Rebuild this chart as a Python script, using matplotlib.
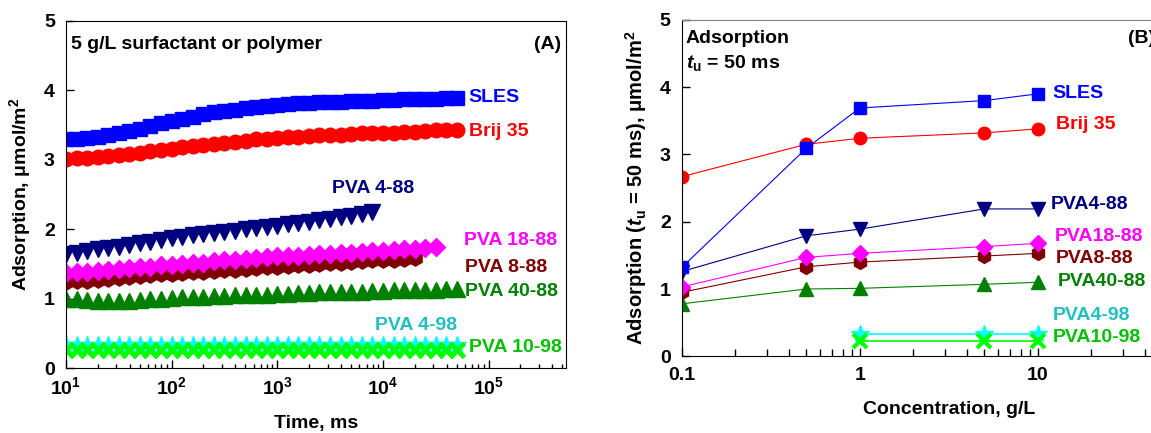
import matplotlib
matplotlib.use("Agg")
import matplotlib.pyplot as plt
from matplotlib.ticker import LogLocator, NullFormatter, FixedLocator

plt.rcParams['font.family'] = ['Liberation Sans', 'DejaVu Sans']
plt.rcParams['font.weight'] = 'bold'
plt.rcParams['mathtext.fontset'] = 'custom'
plt.rcParams['mathtext.rm'] = 'Liberation Sans:bold'
plt.rcParams['mathtext.it'] = 'Liberation Sans:bold:italic'
plt.rcParams['mathtext.bf'] = 'Liberation Sans:bold'

# ---- panel A: adsorption vs time, 5 g/L ----
times = [10, 12.6, 15.8, 20, 25.1, 31.6, 39.8, 50.1, 63.1, 79.4,
         100, 126, 158, 200, 251, 316, 398, 501, 631, 794,
         1000, 1260, 1580, 2000, 2510, 3160, 3980, 5010, 6310, 7940,
         10000, 12600, 15800, 20000, 25100, 31600, 39800, 50100]

sles_t = [3.29, 3.30, 3.31, 3.33, 3.35, 3.38, 3.41, 3.44, 3.48, 3.52,
          3.56, 3.59, 3.62, 3.65, 3.68, 3.70, 3.72, 3.74, 3.76, 3.77,
          3.79, 3.80, 3.81, 3.82, 3.825, 3.83, 3.835, 3.84, 3.845, 3.85,
          3.855, 3.86, 3.865, 3.87, 3.87, 3.875, 3.88, 3.88]
brij_t = [3.01, 3.02, 3.03, 3.04, 3.05, 3.06, 3.08, 3.10, 3.12, 3.14,
          3.16, 3.18, 3.19, 3.21, 3.23, 3.24, 3.26, 3.27, 3.29, 3.30,
          3.31, 3.32, 3.33, 3.34, 3.35, 3.36, 3.36, 3.37, 3.38, 3.38,
          3.39, 3.39, 3.40, 3.40, 3.41, 3.42, 3.42, 3.43]
pva488_t = [1.64, 1.66, 1.68, 1.71, 1.73, 1.75, 1.77, 1.80, 1.82, 1.85,
            1.87, 1.89, 1.91, 1.93, 1.95, 1.96, 1.98, 2.00, 2.01, 2.03,
            2.05, 2.07, 2.09, 2.11, 2.13, 2.15, 2.17, 2.19, 2.22, 2.25]
pva1888_t = [1.37, 1.38, 1.39, 1.40, 1.42, 1.43, 1.44, 1.45, 1.46, 1.48,
             1.49, 1.50, 1.51, 1.52, 1.54, 1.55, 1.56, 1.57, 1.58, 1.60,
             1.61, 1.62, 1.62, 1.63, 1.64, 1.65, 1.66, 1.66, 1.67, 1.68,
             1.69, 1.70, 1.71, 1.72, 1.73, 1.74]
pva888_t = [1.24, 1.25, 1.26, 1.27, 1.28, 1.30, 1.31, 1.33, 1.34, 1.35,
            1.36, 1.37, 1.38, 1.39, 1.40, 1.41, 1.42, 1.43, 1.44, 1.45,
            1.46, 1.47, 1.48, 1.49, 1.50, 1.51, 1.52, 1.53, 1.54, 1.55,
            1.55, 1.56, 1.57, 1.58]
pva4088_t = [1.00, 0.99, 0.98, 0.97, 0.97, 0.97, 0.97, 0.98, 0.99, 1.00,
             1.01, 1.02, 1.02, 1.03, 1.04, 1.04, 1.05, 1.05, 1.06, 1.06,
             1.07, 1.07, 1.08, 1.08, 1.09, 1.09, 1.10, 1.10, 1.10, 1.11,
             1.11, 1.12, 1.12, 1.12, 1.13, 1.13, 1.14, 1.14]
pva498_t = [0.33, 0.33, 0.33, 0.33, 0.33, 0.33, 0.33, 0.33, 0.33, 0.33,
            0.33, 0.33, 0.33, 0.33, 0.33, 0.33, 0.33, 0.33, 0.33, 0.33,
            0.33, 0.33, 0.33, 0.33, 0.33, 0.33, 0.33, 0.33, 0.33, 0.33,
            0.33, 0.33, 0.33, 0.33, 0.33, 0.33, 0.33, 0.33]
pva1098_t = [0.26, 0.26, 0.26, 0.26, 0.26, 0.26, 0.26, 0.26, 0.26, 0.26,
             0.26, 0.26, 0.26, 0.26, 0.26, 0.26, 0.26, 0.26, 0.26, 0.26,
             0.26, 0.26, 0.26, 0.26, 0.26, 0.26, 0.26, 0.26, 0.26, 0.26,
             0.26, 0.26, 0.26, 0.26, 0.26, 0.26, 0.26, 0.26]

# ---- panel B: adsorption at 50 ms vs concentration ----
conc = [0.1, 0.5, 1, 5, 10]
conc98 = [1, 5, 10]
sles_c = [1.32, 3.09, 3.69, 3.80, 3.90]
brij_c = [2.67, 3.15, 3.24, 3.32, 3.38]
pva488_c = [1.26, 1.79, 1.89, 2.19, 2.19]
pva1888_c = [1.03, 1.47, 1.53, 1.63, 1.68]
pva888_c = [0.95, 1.33, 1.40, 1.49, 1.53]
pva4088_c = [0.78, 1.00, 1.01, 1.07, 1.10]
pva498_c = [0.33, 0.33, 0.33]
pva1098_c = [0.23, 0.23, 0.23]

fig = plt.figure(figsize=(11.51, 4.33), dpi=100)

# ================= panel A =================
ax = fig.add_axes([0.0573, 0.1494, 0.4344, 0.8032])
ax.plot(times, pva498_t, '*', color='#00FFFF', ms=13, mec='#00FFFF')
ax.plot(times, pva1098_t, 'x', color='#00FF00', ms=10, mew=3.5)
ax.plot(times, pva4088_t, '^', color='#008000', ms=12)
ax.plot(times[:len(pva888_t)], pva888_t, 'h', color='#800000', ms=11)
ax.plot(times[:len(pva1888_t)], pva1888_t, 'D', color='#FF00FF', ms=9)
ax.plot(times[:len(pva488_t)], pva488_t, 'v', color='#000080', ms=12)
ax.plot(times, brij_t, 'o', color='#FF0000', ms=10.5)
ax.plot(times, sles_t, 's', color='#0000FF', ms=10.5)

ax.set_xscale('log')
ax.set_xlim(10, 5.4e5)
ax.set_ylim(0, 5)
ax.set_yticks([0, 1, 2, 3, 4, 5])
ax.xaxis.set_major_locator(FixedLocator([1e1, 1e2, 1e3, 1e4, 1e5]))
ax.xaxis.set_minor_locator(LogLocator(base=10, subs=range(2, 10), numticks=20))
ax.xaxis.set_minor_formatter(NullFormatter())
ax.tick_params(axis='both', which='major', direction='in', length=6, width=1,
               labelsize=14, top=False, right=False)
ax.tick_params(axis='x', which='major', pad=6)
ax.tick_params(axis='y', which='major', pad=8)
ax.tick_params(axis='x', which='minor', direction='in', length=3, width=1, top=False)
ax.set_xlabel('Time, ms', fontsize=14, fontweight='bold', labelpad=12)
ax.set_ylabel(r'Adsorption, μmol/m$^\mathbf{2}$', fontsize=14, fontweight='bold', labelpad=8)

ax.text(0.01, 0.955, '5 g/L surfactant or polymer', transform=ax.transAxes,
        fontsize=14, fontweight='bold', va='top', ha='left')
ax.text(0.99, 0.955, '(A)', transform=ax.transAxes,
        fontsize=14, fontweight='bold', va='top', ha='right')

lab_kw = dict(fontsize=14, fontweight='bold', va='center', ha='left')
ax.text(6.5e4, 3.89, 'SLES', color='#0000FF', **lab_kw)
ax.text(6.5e4, 3.40, 'Brij 35', color='#FF0000', **lab_kw)
ax.text(3.3e3, 2.59, 'PVA 4-88', color='#000080', **lab_kw)
ax.text(5.8e4, 1.84, 'PVA 18-88', color='#FF00FF', **lab_kw)
ax.text(6.0e4, 1.45, 'PVA 8-88', color='#800000', **lab_kw)
ax.text(6.0e4, 1.10, 'PVA 40-88', color='#008000', **lab_kw)
ax.text(8.5e3, 0.62, 'PVA 4-98', color='#20C0C0', **lab_kw)
ax.text(6.5e4, 0.30, 'PVA 10-98', color='#00C000', **lab_kw)

# ================= panel B =================
bx = fig.add_axes([0.5923, 0.1771, 0.4641, 0.7771])
bx.plot(conc98, pva498_c, '-*', color='#00FFFF', ms=13, lw=1.2)
bx.plot(conc98, pva1098_c, '-x', color='#00FF00', ms=10, mew=3, lw=1.2)
bx.plot(conc, pva4088_c, '-^', color='#008000', ms=10, lw=0.8)
bx.plot(conc, pva888_c, '-h', color='#800000', ms=10, lw=0.8)
bx.plot(conc, pva1888_c, '-D', color='#FF00FF', ms=8, lw=0.8)
bx.plot(conc, pva488_c, '-v', color='#000080', ms=10, lw=0.8)
bx.plot(conc, brij_c, '-o', color='#FF0000', ms=9, lw=0.8)
bx.plot(conc, sles_c, '-s', color='#0000FF', ms=8.5, lw=0.8)

bx.set_xscale('log')
bx.set_xlim(0.1, 100)
bx.set_ylim(0, 5)
bx.set_yticks([0, 1, 2, 3, 4, 5])
bx.xaxis.set_major_locator(FixedLocator([0.1, 1, 10]))
bx.set_xticklabels(['0.1', '1', '10'])
bx.xaxis.set_minor_locator(LogLocator(base=10, subs=range(2, 10), numticks=20))
bx.xaxis.set_minor_formatter(NullFormatter())
bx.tick_params(axis='both', which='major', direction='in', length=6, width=1,
               labelsize=14, top=False, right=False)
bx.tick_params(axis='x', which='major', pad=8)
bx.tick_params(axis='y', which='major', pad=8)
bx.tick_params(axis='x', which='minor', direction='in', length=5, width=1, top=False)
bx.spines['top'].set_color('#808080')
bx.set_xlabel('Concentration, g/L', fontsize=14, fontweight='bold', labelpad=12)
bx.set_ylabel(r'Adsorption ($\mathit{t}_\mathrm{u}$ = 50 ms), μmol/m$^\mathbf{2}$',
              fontsize=14.5, fontweight='bold', labelpad=8)

bx.text(0.105, 4.72, 'Adsorption', fontsize=14, fontweight='bold', va='center', ha='left')
bx.text(0.105, 4.36, r'$\mathit{t}_\mathrm{u}$ = 50 ms', fontsize=14, fontweight='bold',
        va='center', ha='left')
bx.text(32, 4.72, '(B)', fontsize=14, fontweight='bold', va='center', ha='left')

bx.text(12.1, 3.91, 'SLES', color='#0000FF', **lab_kw)
bx.text(12.6, 3.44, 'Brij 35', color='#FF0000', **lab_kw)
bx.text(11.8, 2.26, 'PVA4-88', color='#000080', **lab_kw)
bx.text(12.4, 1.78, 'PVA18-88', color='#FF00FF', **lab_kw)
bx.text(12.6, 1.46, 'PVA8-88', color='#800000', **lab_kw)
bx.text(12.9, 1.11, 'PVA40-88', color='#008000', **lab_kw)
bx.text(12.2, 0.60, 'PVA4-98', color='#20C0C0', **lab_kw)
bx.text(12.1, 0.28, 'PVA10-98', color='#00C000', **lab_kw)

fig.savefig('out.png', dpi=100)
